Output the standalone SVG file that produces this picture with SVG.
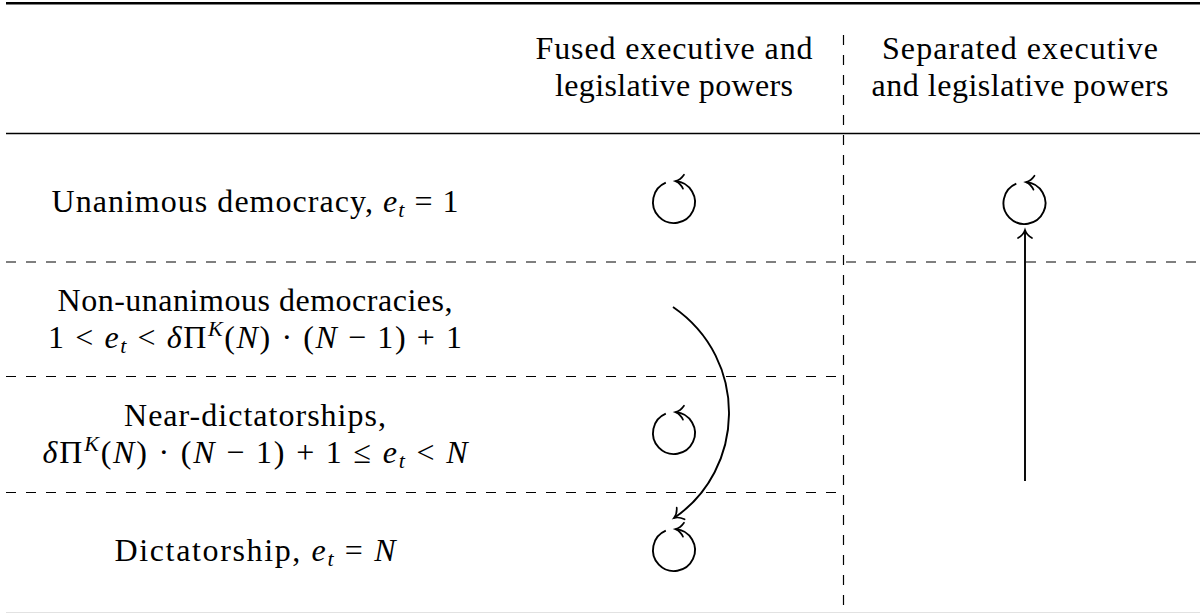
<svg xmlns="http://www.w3.org/2000/svg" xmlns:xlink="http://www.w3.org/1999/xlink" width="1200" height="613" viewBox="0 0 1200 613" font-family="'Liberation Serif', 'Times New Roman', serif">
<style>
  text { font-family: "Liberation Serif", "Times New Roman", serif; font-size: 32px; fill: #000; }
  .i { font-style: italic; }
  .sub { font-style: italic; font-size: 22px; }
  .rule { stroke: #000; fill: none; }
  .dash { stroke: #000; stroke-width: 1.2; stroke-dasharray: 10 10; fill: none; }
  .edge { stroke: #000; stroke-width: 1.9; fill: none; }
</style>
<defs>
  <marker id="ah" markerUnits="userSpaceOnUse" viewBox="-12 -12 24 24" markerWidth="24" markerHeight="24" refX="0" refY="0" orient="auto" overflow="visible">
    <path d="M -8 -7 C -6 -3.5 -2.8 -0.9 0 0 C -2.8 0.9 -6 3.5 -8 7" fill="none" stroke="#000" stroke-width="1.7" stroke-linecap="round"/>
  </marker>
  <path id="loop" d="M -8.2 -19.3 A 21 21 0 1 0 1.5 -20.9" class="edge" marker-end="url(#ah)"/>
</defs>
<rect width="1200" height="613" fill="#fff"/>

<g id="table-lines">
  <line class="rule" x1="6" y1="3.3" x2="1200" y2="3.3" stroke-width="2.5"/>
  <line class="rule" x1="6" y1="133.5" x2="1200" y2="133.5" stroke-width="1.6"/>
  <line x1="6" y1="612.5" x2="1200" y2="612.5" stroke="#e2e2e2" stroke-width="1"/>
  <line class="dash" x1="6" y1="262" x2="1200" y2="262"/>
  <line class="dash" x1="6" y1="376.5" x2="843.5" y2="376.5"/>
  <line class="dash" x1="6" y1="492.5" x2="843.5" y2="492.5"/>
  <line class="dash" x1="843.5" y1="35" x2="843.5" y2="613"/>
</g>

<g id="header-fused">
  <text x="674" y="59" text-anchor="middle" textLength="277">Fused executive and</text>
  <text x="674" y="96" text-anchor="middle" textLength="238">legislative powers</text>
</g>
<g id="header-separated">
  <text x="1020" y="59" text-anchor="middle" textLength="276">Separated executive</text>
  <text x="1020" y="96" text-anchor="middle" textLength="297">and legislative powers</text>
</g>

<g id="row-unanimous">
  <text x="255" y="212" text-anchor="middle" textLength="407">Unanimous democracy, <tspan class="i">e</tspan><tspan class="sub" dy="5">t</tspan><tspan dy="-5"> = 1</tspan></text>
</g>
<g id="row-nonunanimous">
  <text x="255" y="311" text-anchor="middle" textLength="395">Non-unanimous democracies,</text>
  <text x="255" y="348" text-anchor="middle" textLength="414">1 &lt; <tspan class="i">e</tspan><tspan class="sub" dy="5">t</tspan><tspan dy="-5"> &lt; </tspan><tspan class="i">δ</tspan>Π<tspan class="sub" dy="-12">K</tspan><tspan dy="12">(</tspan><tspan class="i">N</tspan>) · (<tspan class="i">N</tspan> − 1) + 1</text>
</g>
<g id="row-near">
  <text x="255" y="426" text-anchor="middle" textLength="262">Near-dictatorships,</text>
  <text x="255" y="463" text-anchor="middle" textLength="425"><tspan class="i">δ</tspan>Π<tspan class="sub" dy="-12">K</tspan><tspan dy="12">(</tspan><tspan class="i">N</tspan>) · (<tspan class="i">N</tspan> − 1) + 1 ≤ <tspan class="i">e</tspan><tspan class="sub" dy="5">t</tspan><tspan dy="-5"> &lt; </tspan><tspan class="i">N</tspan></text>
</g>
<g id="row-dictatorship">
  <text x="255" y="561" text-anchor="middle" textLength="281">Dictatorship, <tspan class="i">e</tspan><tspan class="sub" dy="5">t</tspan><tspan dy="-5"> = </tspan><tspan class="i">N</tspan></text>
</g>

<g id="node-fused-unanimous"><use xlink:href="#loop" x="674" y="202"/></g>
<g id="node-separated-unanimous"><use xlink:href="#loop" x="1024.5" y="203"/></g>
<g id="node-fused-near"><use xlink:href="#loop" x="674" y="433"/></g>
<g id="node-fused-dictatorship"><use xlink:href="#loop" x="674" y="550"/></g>

<g id="connectors">
  <path class="edge" d="M 673 307 C 750 360 745 470 674 518" marker-end="url(#ah)"/>
  <path class="edge" d="M 1025 481 L 1025 230" marker-end="url(#ah)"/>
</g>
</svg>
